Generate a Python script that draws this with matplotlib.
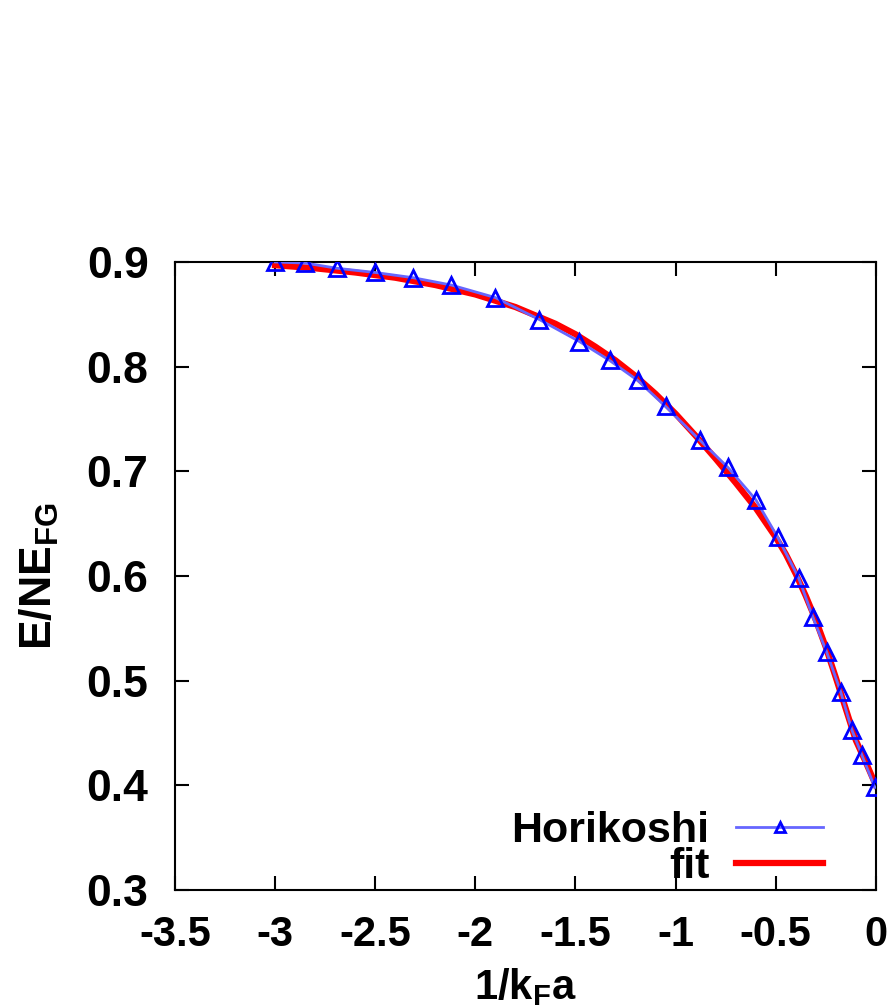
"""Energy per particle vs 1/kFa: Horikoshi data with fit."""

from matplotlib import pyplot as plt

plt.rcParams['font.family'] = ['Liberation Sans', 'DejaVu Sans']
plt.rcParams['font.weight'] = 'bold'
plt.rcParams['mathtext.fontset'] = 'custom'
plt.rcParams['mathtext.rm'] = 'Liberation Sans:bold'
plt.rcParams['mathtext.it'] = 'Liberation Sans:bold'
plt.rcParams['mathtext.bf'] = 'Liberation Sans:bold'

# Horikoshi data points
hori_x = [-3.00, -2.85, -2.69, -2.50, -2.31, -2.12, -1.90, -1.68, -1.48,
          -1.33, -1.19, -1.05, -0.88, -0.74, -0.60, -0.49, -0.385, -0.315,
          -0.245, -0.175, -0.12, -0.07, -0.005]
hori_y = [0.900, 0.899, 0.894, 0.890, 0.885, 0.878, 0.866, 0.845, 0.824,
          0.806, 0.787, 0.762, 0.730, 0.704, 0.673, 0.637, 0.598, 0.561,
          0.527, 0.489, 0.453, 0.429, 0.398]

# fit curve
fit_x = [-3.0, -2.8, -2.6, -2.4, -2.2, -2.0, -1.8, -1.6, -1.5, -1.4, -1.3,
         -1.2, -1.1, -1.0, -0.9, -0.8, -0.7, -0.6, -0.5, -0.45, -0.4, -0.35,
         -0.3, -0.25, -0.2, -0.15, -0.1, -0.05, 0.0]
fit_y = [0.897, 0.894, 0.890, 0.885, 0.878, 0.869, 0.857, 0.841, 0.831,
         0.819, 0.806, 0.791, 0.774, 0.755, 0.734, 0.712, 0.689, 0.665,
         0.637, 0.621, 0.602, 0.581, 0.558, 0.532, 0.503, 0.473, 0.443,
         0.422, 0.400]

xticks = [-3.5, -3, -2.5, -2, -1.5, -1, -0.5, 0]
xtick_labels = ['-3.5', '-3', '-2.5', '-2', '-1.5', '-1', '-0.5', '0']
yticks = [0.3, 0.4, 0.5, 0.6, 0.7, 0.8, 0.9]

fig = plt.figure(figsize=(8.91, 10.07), dpi=100)
ax = fig.add_axes([0.1964, 0.1162, 0.7866, 0.6236])

ax.plot(hori_x, hori_y, color='#6666ff', lw=2, marker='^', ms=11,
        mfc='none', mec='#0000ff', mew=2, label='Horikoshi', zorder=3)
ax.plot(fit_x, fit_y, color='#ff0000', lw=4.5, label='fit', zorder=2)

ax.set_xlim(-3.5, 0)
ax.set_ylim(0.3, 0.9)
ax.set_xticks(xticks)
ax.set_xticklabels(xtick_labels)
ax.set_yticks(yticks)
ax.tick_params(direction='in', length=10, width=1.5, labelsize=30,
               top=True, right=True)
ax.tick_params(axis='x', pad=18)
ax.tick_params(axis='y', pad=19)
for lab in ax.get_yticklabels():
    lab.set_fontsize(32)
for spine in ax.spines.values():
    spine.set_linewidth(1.5)

ax.set_xlabel(r'1/k$_\mathregular{F}$a', fontsize=30, fontweight='bold')
ax.xaxis.set_label_coords(0.5, -0.122)
ax.set_ylabel(r'E/NE$_\mathregular{FG}$', fontsize=32, fontweight='bold')
ax.yaxis.set_label_coords(-0.163, 0.5)

ax.legend(loc='lower right', frameon=False, markerfirst=False, fontsize=31,
          handlelength=2.0, handletextpad=0.63, borderpad=0,
          borderaxespad=0, labelspacing=-0.1, markerscale=0.6,
          bbox_to_anchor=(0.924, 0.005))

fig.savefig('out.png', dpi=100)
